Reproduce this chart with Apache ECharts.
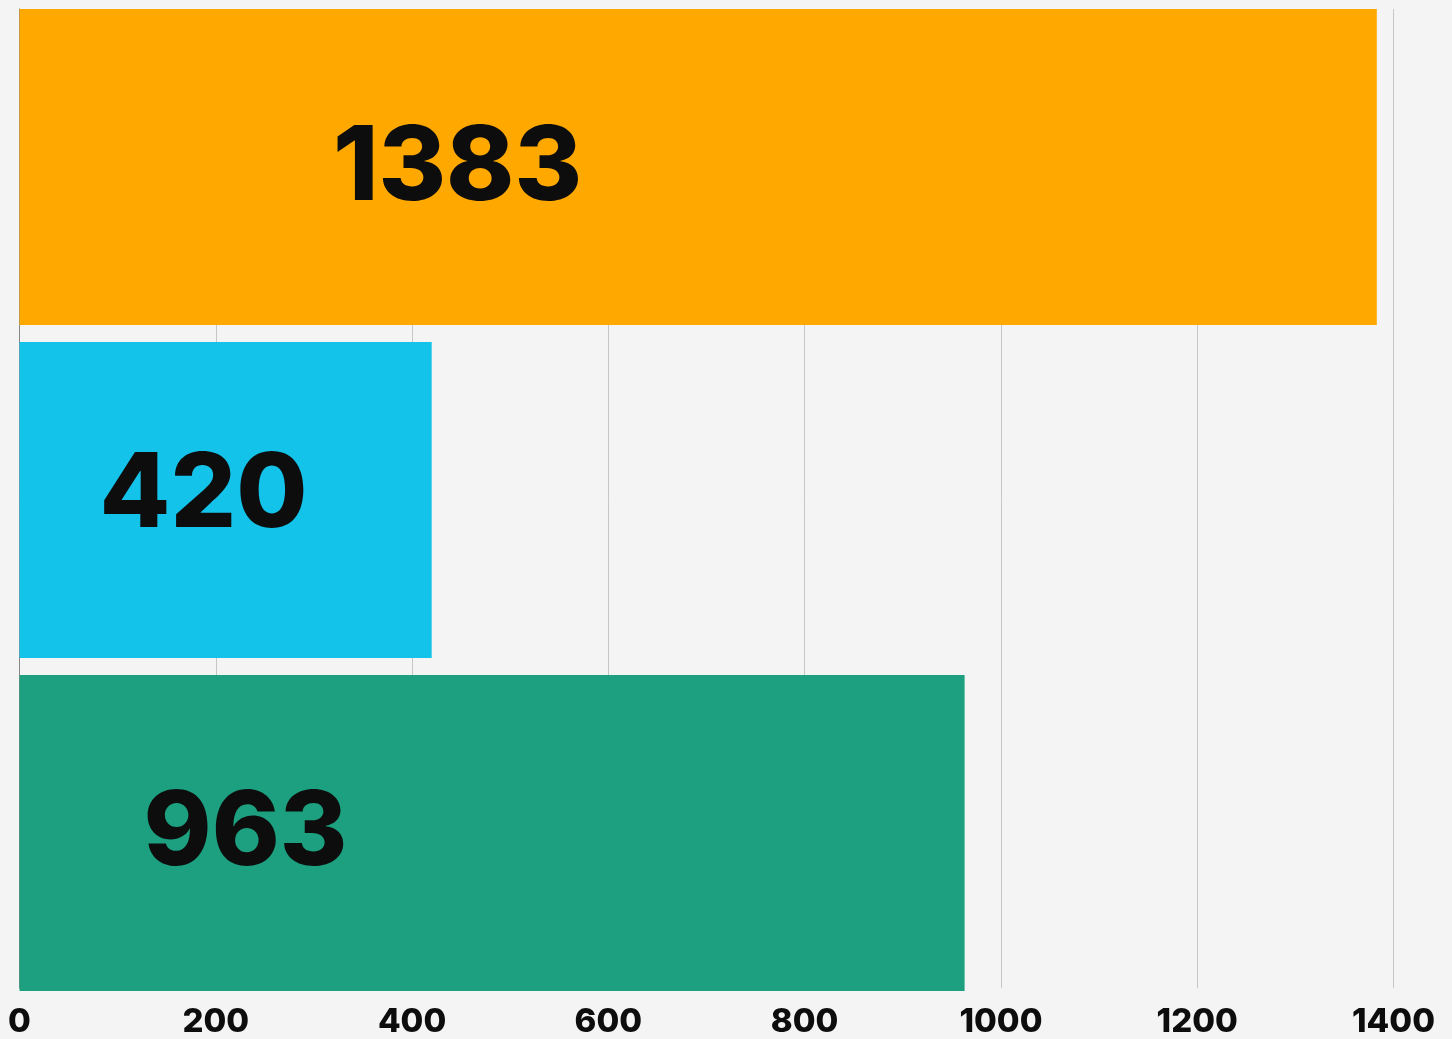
<!DOCTYPE html>
<html>
<head>
<meta charset="utf-8">
<script src="https://cdn.jsdelivr.net/npm/echarts@6/dist/echarts.min.js"></script>
<style>
  html, body { margin: 0; padding: 0; background: #f4f4f4; }
  #chart { width: 1452px; height: 1039px; }
</style>
</head>
<body>
<div id="chart"></div>
<script>
// data
const categories = ["Bar 1", "Bar 2", "Bar 3"];
const values = [1383, 420, 963];
const tickMin = 0;
const tickMax = 1400;
const tickStep = 200;

// styles
const barColors = ["#ffa900", "#14c3ea", "#1da080"];
const labelPos = [[438, 2], [184, -4], [226, 1]]; // label centre x from bar start, y shift

const chart = echarts.init(document.getElementById("chart"));
const font = "Inter, Liberation Sans, sans-serif";

const option = {
  backgroundColor: "#f4f4f4",
  animation: false,
  grid: [
    // grid for gridlines + tick labels
    { left: 19.5, right: 58.5, top: 9, bottom: 48 },
    // grid for the bars (half gap outside the gridline area)
    { left: 19.5, right: 58.5, top: 0.5, bottom: 39.5 },
  ],
  xAxis: [
    {
      gridIndex: 0,
      type: "value",
      min: tickMin,
      max: tickMax,
      interval: tickStep,
      axisLine: { show: false },
      axisTick: { show: false },
      splitLine: { show: true, lineStyle: { color: "#c6c6c6", width: 1 } },
      axisLabel: {
        color: "#0d0d0d",
        fontFamily: font,
        fontWeight: 800,
        fontSize: 33,
        margin: 18,
        formatter: function (v) {
          return String(v);
        },
      },
    },
    { gridIndex: 1, type: "value", min: tickMin, max: tickMax, show: false },
  ],
  yAxis: [
    {
      gridIndex: 0,
      type: "value",
      axisLine: { show: true, lineStyle: { color: "#888888", width: 1 } },
      axisTick: { show: false },
      axisLabel: { show: false },
      splitLine: { show: false },
    },
    {
      gridIndex: 1,
      type: "category",
      data: categories,
      inverse: true,
      show: false,
    },
  ],
  series: [
    {
      type: "bar",
      xAxisIndex: 1,
      yAxisIndex: 1,
      barWidth: 316,
      z: 3,
      data: values.map((v, i) => ({
        value: v,
        itemStyle: { color: barColors[i] },
        label: {
          show: true,
          position: [labelPos[i][0], "50%"],
          offset: [0, labelPos[i][1]],
          align: "center",
          verticalAlign: "middle",
          color: "#0d0d0d",
          fontFamily: font,
          fontWeight: 800,
          fontSize: 103,
        },
      })),
    },
  ],
};
chart.setOption(option);
window.addEventListener("resize", function () {
  chart.resize();
});
</script>
</body>
</html>
